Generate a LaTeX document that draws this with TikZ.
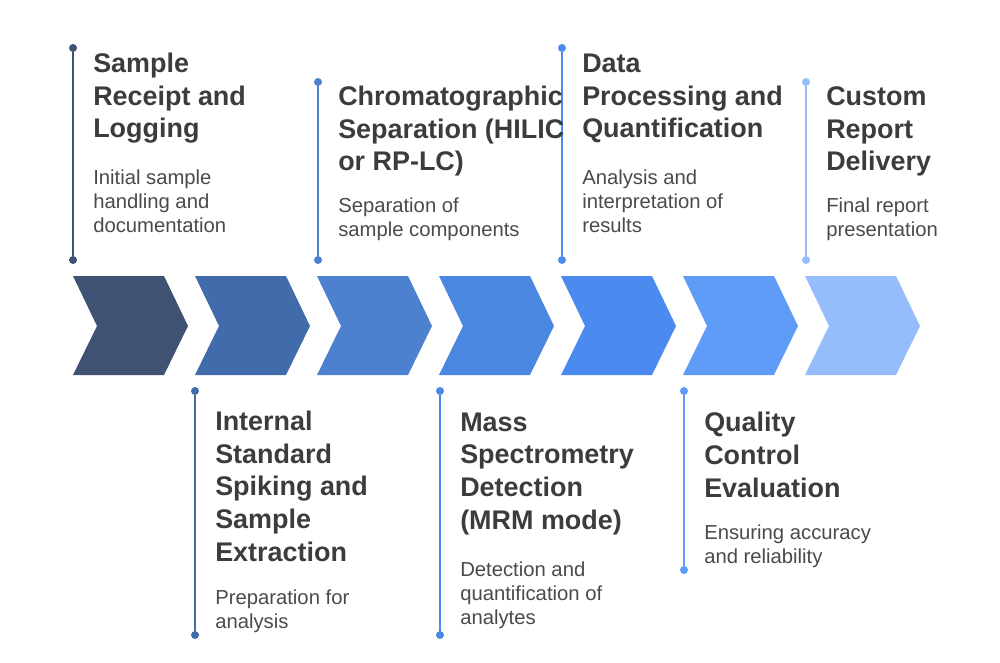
\documentclass[tikz,border=0pt]{standalone}
\usepackage{fontspec}
\setmainfont{Liberation Sans}
\definecolor{c1}{HTML}{3F5273}
\definecolor{c2}{HTML}{416BAA}
\definecolor{c3}{HTML}{4D80CF}
\definecolor{c4}{HTML}{4A87E0}
\definecolor{c5}{HTML}{4B8BF0}
\definecolor{c6}{HTML}{5E9CF7}
\definecolor{c7}{HTML}{95BDFB}
\definecolor{tcol}{HTML}{3C3C3C}
\definecolor{bcol}{HTML}{4A4A4A}
\tikzset{
 ttl/.style={anchor=base west,align=left,inner sep=0pt,text=tcol,font=\fontsize{20.2}{24.4}\selectfont\bfseries},
 dsc/.style={anchor=base west,align=left,inner sep=0pt,text=bcol,font=\fontsize{15.2}{18}\selectfont},
 dotc/.style={circle,fill,inner sep=0pt,minimum size=6pt}
}
\begin{document}
\begin{tikzpicture}[x=0.75pt,y=-0.75pt]
\useasboundingbox (0,0) rectangle (1000,663);
\foreach \i/\c in {0/c1,1/c2,2/c3,3/c4,4/c5,5/c6,6/c7}{
 \fill[\c] ({73+122*\i},276) -- ({164+122*\i},276) -- ({188+122*\i},326) -- ({164+122*\i},375) -- ({73+122*\i},375) -- ({97+122*\i},326) -- cycle;
}
\foreach \n/\x/\y/\c in {a/73/48/c1,c/318/82/c3,e/562/48/c5,g/806/82/c7}{
 \node[dotc,fill=\c] (\n1) at (\x,\y) {};
 \node[dotc,fill=\c] (\n2) at (\x,260) {};
 \draw[\c,line width=1.2pt] (\n1) -- (\n2);
}
\foreach \n/\x/\y/\c in {b/195/635/c2,d/440/635/c4,f/684/570/c6}{
 \node[dotc,fill=\c] (\n1) at (\x,391) {};
 \node[dotc,fill=\c] (\n2) at (\x,\y) {};
 \draw[\c,line width=1.2pt] (\n1) -- (\n2);
}
\node[ttl] (t1) at (93,138) {Sample\\Receipt and\\Logging};
\node[dsc] (d1) at (93,233) {Initial sample\\handling and\\documentation};
\node[ttl] (t3) at (338,171) {Chromatographic\\Separation (HILIC\\or RP-LC)};
\node[dsc] (d3) at (338,237) {Separation of\\sample components};
\node[ttl] (t5) at (582,138) {Data\\Processing and\\Quantification};
\node[dsc] (d5) at (582,233) {Analysis and\\interpretation of\\results};
\node[ttl] (t7) at (826,171) {Custom\\Report\\Delivery};
\node[dsc] (d7) at (826,237) {Final report\\presentation};
\node[ttl] (t2) at (215,561) {Internal\\Standard\\Spiking and\\Sample\\Extraction};
\node[dsc] (d2) at (215,628) {Preparation for\\analysis};
\node[ttl] (t4) at (460,529) {Mass\\Spectrometry\\Detection\\(MRM mode)};
\node[dsc] (d4) at (460,624) {Detection and\\quantification of\\analytes};
\node[ttl] (t6) at (704,497) {Quality\\Control\\Evaluation};
\node[dsc] (d6) at (704,563) {Ensuring accuracy\\and reliability};
\end{tikzpicture}
\end{document}
